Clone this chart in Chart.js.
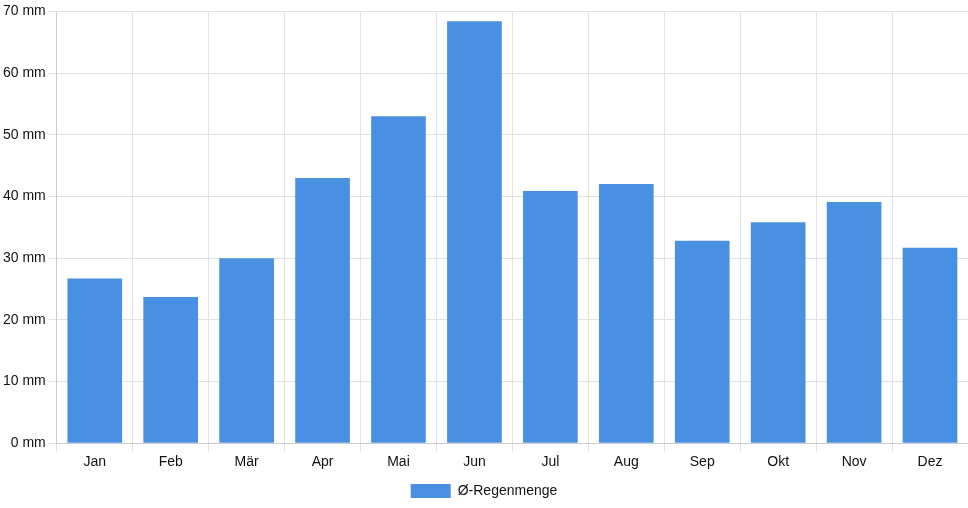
<!DOCTYPE html>
<html>
<head>
<meta charset="utf-8">
<script src="https://cdn.jsdelivr.net/npm/chart.js@4/dist/chart.umd.min.js"></script>
<style>
  html, body { margin: 0; padding: 0; background: #fff; }
  #wrap { width: 968px; height: 508px; }
</style>
</head>
<body>
<div id="wrap"><canvas id="regen"></canvas></div>
<script>
// Monate und Niederschlag (mm)
const monate = ["Jan", "Feb", "Mär", "Apr", "Mai", "Jun", "Jul", "Aug", "Sep", "Okt", "Nov", "Dez"];
const regenmenge = [26.7, 23.7, 30, 43, 53, 68.4, 40.9, 42, 32.8, 35.8, 39.1, 31.7];
const serienName = "Ø-Regenmenge";

Chart.defaults.font.family = "'Liberation Sans', Arial, sans-serif";
Chart.defaults.font.size = 14;
Chart.defaults.color = "#111";

new Chart(document.getElementById("regen"), {
  type: "bar",
  data: {
    labels: monate,
    datasets: [
      {
        label: serienName,
        data: regenmenge,
        backgroundColor: "#4a90e2",
        borderColor: "#4a90e2",
        borderWidth: 0,
      },
    ],
  },
  options: {
    responsive: true,
    maintainAspectRatio: false,
    animation: false,
    plugins: {
      legend: {
        position: "bottom",
        labels: { boxWidth: 40, boxHeight: 14 },
      },
      tooltip: { enabled: false },
    },
    scales: {
      x: {
        grid: { color: "#e2e2e2" },
        ticks: { color: "#111" },
      },
      y: {
        min: 0,
        max: 70,
        grid: { color: "#e2e2e2" },
        ticks: {
          stepSize: 10,
          color: "#111",
          callback: (v) => v + " mm",
        },
      },
    },
  },
});
</script>
</body>
</html>
